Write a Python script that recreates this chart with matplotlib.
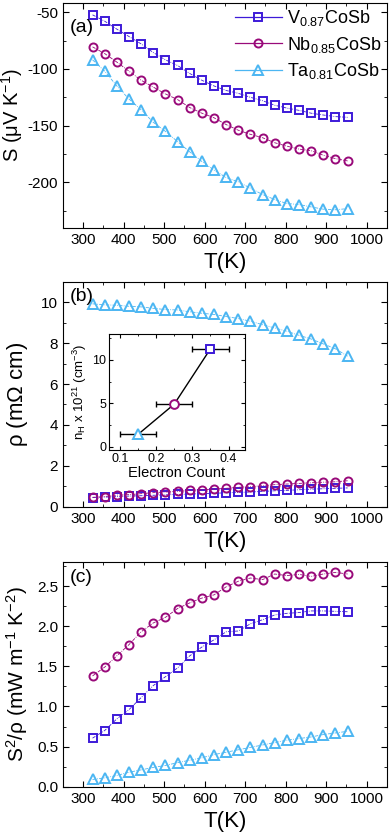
import numpy as np
import matplotlib
matplotlib.use("Agg")
import matplotlib.pyplot as plt
from matplotlib.lines import Line2D
from matplotlib.ticker import MultipleLocator

plt.rcParams['font.family'] = ['Liberation Sans', 'DejaVu Sans']
plt.rcParams['mathtext.fontset'] = 'custom'
plt.rcParams['mathtext.rm'] = 'Liberation Sans'
plt.rcParams['mathtext.it'] = 'Liberation Sans:italic'
plt.rcParams['mathtext.default'] = 'regular'
plt.rcParams['axes.unicode_minus'] = False

# === DATOS ===
T = np.arange(323, 954, 30)

S_V = [-52.4, -58, -65, -71.5, -78, -85.6, -92, -97, -104, -110, -115,
       -119, -121.5, -125, -128, -132, -134.5, -136.5, -139, -140.6, -142, -142.6]
S_Nb = [-80.6, -86.5, -94, -102, -110, -116, -122, -127, -134, -139, -143,
        -149, -154, -157.6, -160.6, -165, -168, -170.6, -172, -176, -179, -181]
S_Ta = [-92, -102, -115, -126.5, -136, -147, -155, -164, -173, -181.5, -189,
        -195.6, -199.4, -205, -210.6, -215, -218.5, -219.4, -221.5, -223.5, -224, -223]

rho_V = [0.45, 0.47, 0.50, 0.52, 0.54, 0.56, 0.58, 0.60, 0.62, 0.64, 0.66,
         0.68, 0.70, 0.72, 0.75, 0.78, 0.80, 0.83, 0.86, 0.88, 0.90, 0.92]
rho_Nb = [0.46, 0.50, 0.57, 0.59, 0.64, 0.69, 0.72, 0.75, 0.80, 0.83, 0.86,
          0.90, 0.95, 0.98, 1.03, 1.08, 1.11, 1.14, 1.17, 1.20, 1.22, 1.27]
rho_Ta = [9.92, 9.87, 9.85, 9.80, 9.77, 9.70, 9.64, 9.62, 9.53, 9.46, 9.40,
          9.30, 9.20, 9.07, 8.90, 8.74, 8.58, 8.38, 8.20, 7.96, 7.72, 7.36]

PF_V = [0.605, 0.70, 0.845, 0.96, 1.11, 1.26, 1.37, 1.48, 1.63, 1.74, 1.83,
        1.93, 1.94, 2.03, 2.08, 2.14, 2.16, 2.17, 2.19, 2.19, 2.185, 2.18]
PF_Nb = [1.38, 1.49, 1.63, 1.77, 1.93, 2.04, 2.11, 2.22, 2.29, 2.35, 2.39,
         2.49, 2.56, 2.60, 2.58, 2.65, 2.63, 2.645, 2.62, 2.65, 2.67, 2.65]
PF_Ta = [0.09, 0.11, 0.14, 0.18, 0.21, 0.24, 0.265, 0.30, 0.33, 0.36, 0.40,
         0.43, 0.46, 0.49, 0.52, 0.55, 0.58, 0.60, 0.62, 0.65, 0.67, 0.69]

# inset: concentración de Hall vs conteo de electrones
e_count = [0.15, 0.25, 0.35]
n_H = [1.4, 4.9, 11.3]
e_err = [0.05, 0.05, 0.05]
n_err = [0.0, 0.0, 0.4]

etiquetas = [r'V$_{0.87}$CoSb', r'Nb$_{0.85}$CoSb', r'Ta$_{0.81}$CoSb']
colores = ['#3d1ad8', '#990a7a', '#4cb6f2']
marcadores = ['s', 'o', '^']
tam = [5.2, 5.8, 6.8]

fig = plt.figure(figsize=(3.9, 8.38), dpi=100)
ax_a = fig.add_axes([0.1615, 0.728, 0.8305, 0.2684])
ax_b = fig.add_axes([0.1615, 0.3953, 0.8305, 0.2685])
ax_c = fig.add_axes([0.1615, 0.0612, 0.8305, 0.2682])


def serie(ax, y, i):
    ax.plot(T, y, linestyle=(0, (4, 1.5, 1, 1.5)), lw=0.6, color=colores[i],
            marker=marcadores[i], ms=tam[i], mfc='none', mew=1.4,
            mec=colores[i])


def estilo(ax):
    ax.set_xlim(250, 1050)
    ax.xaxis.set_major_locator(MultipleLocator(100))
    ax.xaxis.set_minor_locator(MultipleLocator(50))
    ax.tick_params(which='both', direction='in', top=True, right=True, labelsize=11)
    ax.tick_params(which='major', length=4)
    ax.tick_params(which='minor', length=2)
    ax.set_xlabel('T(K)', fontsize=16, labelpad=4)
    for s in ax.spines.values():
        s.set_linewidth(0.8)


for i, y in enumerate([S_V, S_Nb, S_Ta]):
    serie(ax_a, y, i)
for i, y in enumerate([rho_V, rho_Nb, rho_Ta]):
    serie(ax_b, y, i)
for i, y in enumerate([PF_V, PF_Nb, PF_Ta]):
    serie(ax_c, y, i)

# panel (a)
estilo(ax_a)
ax_a.set_ylim(-240, -42)
ax_a.yaxis.set_major_locator(MultipleLocator(50))
ax_a.yaxis.set_minor_locator(MultipleLocator(25))
ax_a.set_ylabel(r'S ($\mu$V K$^{-1}$)', fontsize=14.5, labelpad=2)
ax_a.text(0.02, 0.93, '(a)', transform=ax_a.transAxes, fontsize=14, va='top')
handles = [Line2D([], [], color=colores[i], lw=0.9, marker=marcadores[i], ms=tam[i],
                  mfc='none', mew=1.4) for i in range(3)]
ax_a.legend(handles, etiquetas, loc='upper right', frameon=False, fontsize=13,
            handlelength=2.6, handletextpad=0.3, labelspacing=0.35,
            borderaxespad=0.1, borderpad=0.2)

# panel (b)
estilo(ax_b)
ax_b.set_ylim(0, 11)
ax_b.yaxis.set_major_locator(MultipleLocator(2))
ax_b.yaxis.set_minor_locator(MultipleLocator(1))
ax_b.set_ylabel(r'$\rho$ (m$\Omega$ cm)', fontsize=16, labelpad=8)
ax_b.text(0.02, 0.97, '(b)', transform=ax_b.transAxes, fontsize=14, va='top')

# inset
ax_in = fig.add_axes([0.2795, 0.463, 0.3485, 0.1384])
ax_in.plot(e_count, n_H, color='black', lw=1.0, zorder=1)
ax_in.errorbar(e_count, n_H, xerr=e_err, yerr=n_err, fmt='none', ecolor='black',
               elinewidth=1.0, capsize=2, zorder=2)
for i, j in enumerate([2, 1, 0]):
    ax_in.plot(e_count[i], n_H[i], marker=marcadores[j], ms=tam[j] + 0.5,
               mfc='white', mec=colores[j], mew=1.4, ls='none', zorder=3)
ax_in.set_xlim(0.07, 0.445)
ax_in.set_ylim(-0.4, 13)
ax_in.set_xticks([0.1, 0.2, 0.3, 0.4])
ax_in.set_yticks([0, 5, 10])
ax_in.xaxis.set_minor_locator(MultipleLocator(0.05))
ax_in.yaxis.set_minor_locator(MultipleLocator(2.5))
ax_in.tick_params(which='both', direction='in', top=True, right=True, labelsize=9, pad=2)
ax_in.tick_params(which='major', length=3)
ax_in.tick_params(which='minor', length=1.5)
ax_in.set_xlabel('Electron Count', fontsize=10.5, labelpad=1)
ax_in.set_ylabel(r'n$_H$ x 10$^{21}$ (cm$^{-3}$)', fontsize=9.5, labelpad=2)

# panel (c)
estilo(ax_c)
ax_c.set_ylim(0, 2.8)
ax_c.yaxis.set_major_locator(MultipleLocator(0.5))
ax_c.yaxis.set_minor_locator(MultipleLocator(0.25))
ax_c.set_ylabel(r'S$^2$/$\rho$ (mW m$^{-1}$ K$^{-2}$)', fontsize=15, labelpad=5)
ax_c.text(0.02, 0.97, '(c)', transform=ax_c.transAxes, fontsize=14, va='top')

fig.savefig('out.png', dpi=100)
